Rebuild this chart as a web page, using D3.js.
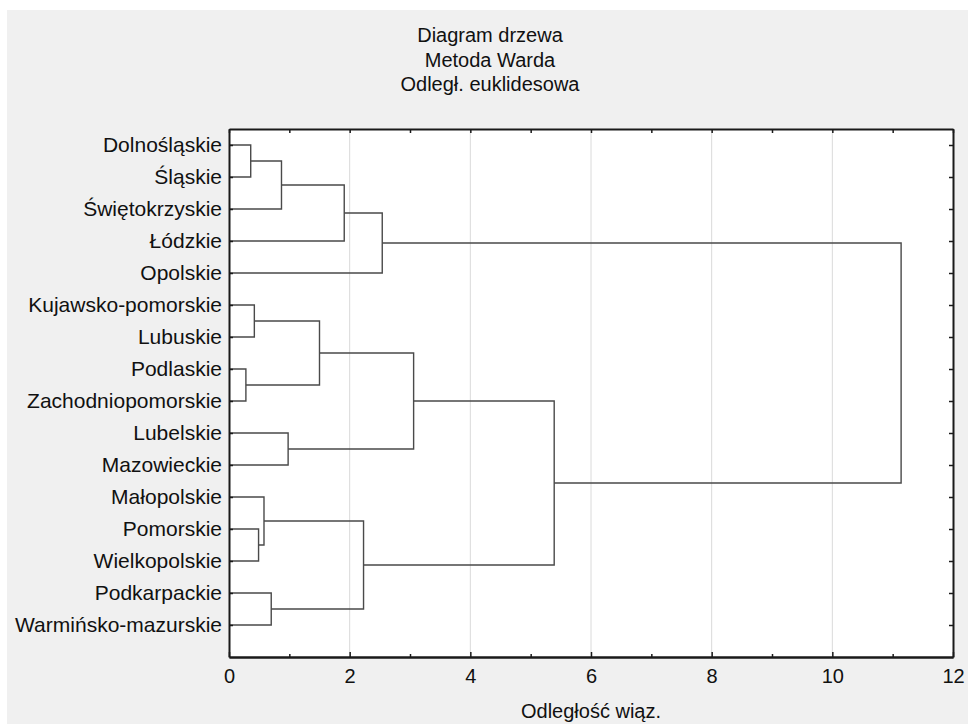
<!DOCTYPE html>
<html>
<head>
<meta charset="utf-8">
<script src="https://cdn.jsdelivr.net/npm/d3@7"></script>
<style>
  body { margin: 0; background: #fff; }
  svg { display: block; font-family: "Liberation Sans", Arial, sans-serif; }
</style>
</head>
<body>
<svg id="svg" width="968" height="724"></svg>
<script>
// leaves in the order they appear top to bottom
const leaves = [
    "Dolnośląskie", "Śląskie", "Świętokrzyskie", "Łódzkie", "Opolskie",
    "Kujawsko-pomorskie", "Lubuskie", "Podlaskie", "Zachodniopomorskie",
    "Lubelskie", "Mazowieckie", "Małopolskie", "Pomorskie", "Wielkopolskie",
    "Podkarpackie", "Warmińsko-mazurskie"
];

// linkage: merge k joins mergeLeft[k] and mergeRight[k] into node 16 + k
const mergeLeft   = [7, 0, 5, 12, 11, 14, 17, 9, 18, 22, 20, 25, 24, 28, 27];
const mergeRight  = [8, 1, 6, 13, 19, 15, 2, 10, 16, 3, 21, 4, 23, 26, 29];
const mergeHeight = [0.28, 0.36, 0.42, 0.49, 0.58, 0.70, 0.87, 0.98, 1.50, 1.91, 2.23, 2.54, 3.06, 5.39, 11.14];

const xMajorTicks = [0, 2, 4, 6, 8, 10, 12];
const xMinorTicks = [1, 3, 5, 7, 9, 11];
const titleLines = ["Diagram drzewa", "Metoda Warda", "Odległ. euklidesowa"];
const xTitle = "Odległość wiąz.";

const svg = d3.select("#svg");
const plotLeft = 229, plotRight = 953, plotTop = 129, plotBottom = 657;

const x = d3.scaleLinear().domain([0, 12]).range([plotLeft, plotRight]);
const y = d3.scaleLinear().domain([0.5, 17]).range([plotTop, plotBottom]);

// grey panel
svg.append("rect")
    .attr("x", 7).attr("y", 10)
    .attr("width", 961).attr("height", 714)
    .attr("fill", "#f0f0f0");

// titles
svg.selectAll(".title").data(titleLines).join("text")
    .attr("class", "title")
    .attr("x", 490)
    .attr("y", (d, i) => 42 + i * 24.5)
    .attr("text-anchor", "middle")
    .attr("font-size", 20)
    .attr("fill", "#111")
    .text(d => d);

// plot area
svg.append("rect")
    .attr("x", plotLeft).attr("y", plotTop)
    .attr("width", plotRight - plotLeft).attr("height", plotBottom - plotTop)
    .attr("fill", "#fff");

// grid
svg.append("g").selectAll("line").data(xMajorTicks.slice(1, -1)).join("line")
    .attr("x1", d => x(d)).attr("x2", d => x(d))
    .attr("y1", plotTop).attr("y2", plotBottom)
    .attr("stroke", "#dadada")
    .attr("stroke-width", 1);

// node positions
const nodeX = leaves.map(() => 0);
const nodeY = leaves.map((d, i) => i + 1);
mergeHeight.forEach((h, k) => {
    nodeX.push(h);
    nodeY.push((nodeY[mergeLeft[k]] + nodeY[mergeRight[k]]) / 2);
});

// elbows
svg.append("g").selectAll("path").data(mergeHeight).join("path")
    .attr("d", (h, k) => {
        const a = mergeLeft[k], b = mergeRight[k];
        return "M" + x(nodeX[a]) + "," + y(nodeY[a]) +
            "H" + x(h) + "V" + y(nodeY[b]) + "H" + x(nodeX[b]);
    })
    .attr("fill", "none")
    .attr("stroke", "#4a4a4a")
    .attr("stroke-width", 1.4);

// axes
const rows = leaves.map((d, i) => i + 1);

const gLeft = svg.append("g").attr("transform", `translate(${plotLeft},0)`)
    .call(d3.axisLeft(y).tickValues(rows).tickFormat(i => leaves[i - 1])
        .tickSizeInner(-4).tickSizeOuter(0).tickPadding(7));
const gRight = svg.append("g").attr("transform", `translate(${plotRight},0)`)
    .call(d3.axisRight(y).tickValues(rows).tickFormat("")
        .tickSizeInner(-4).tickSizeOuter(0));
const gBottom = svg.append("g").attr("transform", `translate(0,${plotBottom})`)
    .call(d3.axisBottom(x).tickValues(xMajorTicks).tickFormat(d3.format("d"))
        .tickSizeInner(-5).tickSizeOuter(0).tickPadding(12));
const gBottomMinor = svg.append("g").attr("transform", `translate(0,${plotBottom})`)
    .call(d3.axisBottom(x).tickValues(xMinorTicks).tickFormat("")
        .tickSizeInner(-3).tickSizeOuter(0));
const gTop = svg.append("g").attr("transform", `translate(0,${plotTop})`)
    .call(d3.axisTop(x).tickValues(d3.range(0, 13)).tickFormat("")
        .tickSizeInner(-4).tickSizeOuter(0));

[gLeft, gRight, gBottom, gBottomMinor, gTop].forEach(g => {
    g.select(".domain").attr("stroke", "#1a1a1a").attr("stroke-width", 2);
    g.selectAll(".tick line").attr("stroke", "#1a1a1a").attr("stroke-width", 1.5);
    g.selectAll("text")
        .attr("font-family", "Liberation Sans, Arial, sans-serif")
        .attr("fill", "#111");
});
gLeft.selectAll("text").attr("font-size", 21);
gBottom.selectAll("text").attr("font-size", 20).attr("dy", "0.71em");

svg.append("text")
    .attr("x", (plotLeft + plotRight) / 2)
    .attr("y", 718)
    .attr("text-anchor", "middle")
    .attr("font-size", 20)
    .attr("fill", "#111")
    .text(xTitle);
</script>
</body>
</html>
